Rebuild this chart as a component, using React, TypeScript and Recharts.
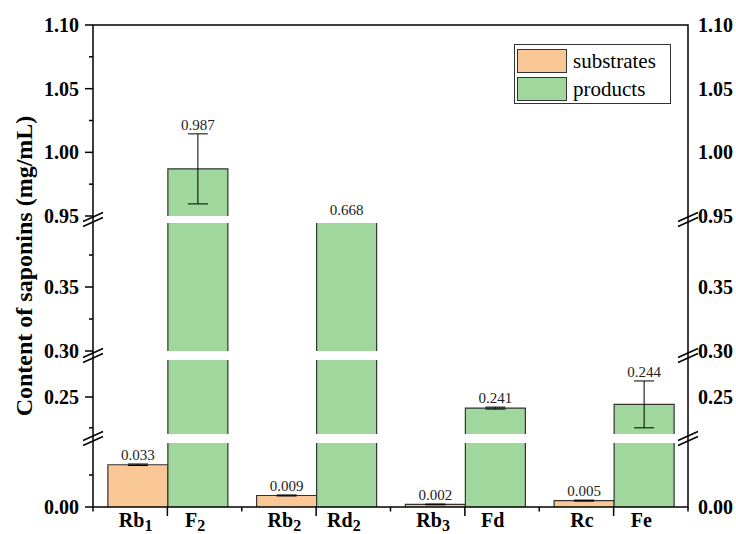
import React from "react";
import { BarChart, Bar, XAxis, YAxis, ErrorBar, LabelList, Legend } from "recharts";

const substrates = ["Rb1", "Rb2", "Rb3", "Rc"];
const products = ["F2", "Rd2", "Fd", "Fe"];
const substrateValues = [0.033, 0.009, 0.002, 0.005];
const productValues = [0.987, 0.668, 0.241, 0.244];
const substrateErrors = [0.0006, 0.0004, 0.0003, 0.0004];
const productErrors = [0.0275, 0, 0.0008, 0.019];
const seriesNames = ["substrates", "products"];

// broken y axis, top piece first
const pieceDomains = [
  [0.95, 1.1],
  [0.3, 0.4],
  [0.22, 0.28],
  [0, 0.05],
];
const pieceMajorTicks = [[0.95, 1.0, 1.05, 1.1], [0.3, 0.35], [0.25], [0]];
const pieceMinorTicks = [[0.975, 1.025, 1.075], [0.325, 0.375], [0.225], [0.025]];

const W = 736;
const H = 534;
const PLOT_LEFT = 93;
const PLOT_RIGHT = 688;
const pieceBox = [
  { top: 25, bottom: 216 },
  { top: 223, bottom: 351 },
  { top: 360, bottom: 434 },
  { top: 443, bottom: 507 },
];
const X_AXIS_H = 27;
const PIECE_PAD_BOTTOM = 14;
const BAND = (PLOT_RIGHT - PLOT_LEFT) / substrates.length;
const BAR_W = BAND * 0.4;

const SERIF = "'Liberation Serif', 'Times New Roman', serif";
const SUB_FILL = "#F9C896";
const PROD_FILL = "#9FD79C";
const EDGE = "#333";

const data = substrates.map((s, i) => ({
  group: s,
  substrate: substrateValues[i],
  substrateErr: substrateErrors[i],
  product: productValues[i],
  productErr: productErrors[i],
}));

// fill plus left/top/right edges, so cut pieces show no line at the break
const OpenBar = (p: any) => {
  const { x, y, width, height, fill } = p;
  if (!(height > 0)) return <g />;
  return (
    <g>
      <rect x={x} y={y} width={width} height={height} fill={fill} stroke="none" />
      <path
        d={`M${x},${y + height}V${y}H${x + width}V${y + height}`}
        fill="none"
        stroke={EDGE}
        strokeWidth={1.2}
      />
    </g>
  );
};

const makeValueLabel = (piece: number, marginTop: number, errors: number[]) => (props: any) => {
  const vb = props.viewBox ?? props;
  const x = vb.x ?? props.x;
  const y = vb.y ?? props.y;
  const width = vb.width ?? props.width;
  const value = Number(props.value);
  const index = props.index ?? 0;
  const [lo, hi] = pieceDomains[piece];
  const box = pieceBox[piece];
  const pxPerUnit = (box.bottom - box.top) / (hi - lo);
  let ty: number;
  if (value >= lo && value <= hi) {
    ty = y - errors[index] * pxPerUnit - 4;
  } else if (value > hi && (piece === 0 || value < pieceDomains[piece - 1][0])) {
    ty = marginTop - 8;
  } else {
    return null;
  }
  return (
    <text
      x={x + width / 2}
      y={ty}
      textAnchor="middle"
      fontFamily={SERIF}
      fontSize={15}
      fill="#222"
    >
      {value.toFixed(3)}
    </text>
  );
};

const isIn = (v: number, list: number[]) => list.some((m) => Math.abs(m - v) < 1e-9);

const leftTick = (majors: number[]) => (p: any) => {
  const { x, y, payload } = p;
  const major = isIn(payload.value, majors);
  return (
    <g>
      <line x1={x - (major ? 8 : 4)} x2={x} y1={y} y2={y} stroke="#000" strokeWidth={1.5} />
      {major && (
        <text
          x={x - 14}
          y={y}
          dy="0.35em"
          textAnchor="end"
          fontFamily={SERIF}
          fontWeight="bold"
          fontSize={20}
          fill="#000"
        >
          {Number(payload.value).toFixed(2)}
        </text>
      )}
    </g>
  );
};

const rightTick = (p: any) => {
  const { x, y, payload } = p;
  return (
    <text
      x={x + 10}
      y={y}
      dy="0.35em"
      textAnchor="start"
      fontFamily={SERIF}
      fontWeight="bold"
      fontSize={20}
      fill="#000"
    >
      {Number(payload.value).toFixed(2)}
    </text>
  );
};

// "Rb1" -> Rb with subscript 1
const SubLabel = ({ x, y, name }: { x: number; y: number; name: string }) => {
  const m = name.match(/^(.*?)(\d*)$/) as RegExpMatchArray;
  return (
    <text x={x} y={y} textAnchor="middle" fontFamily={SERIF} fontWeight="bold" fontSize={20} fill="#000">
      {m[1]}
      {m[2] && (
        <tspan fontSize={16} dy={4}>
          {m[2]}
        </tspan>
      )}
    </text>
  );
};

const XTick = (p: any) => {
  const { x, y, payload } = p;
  const i = payload.index;
  const axisY = y - 9;
  return (
    <g>
      <line x1={x - BAND / 2} x2={x - BAND / 2} y1={axisY} y2={axisY + 4.5} stroke="#000" strokeWidth={1.5} />
      {i === substrates.length - 1 && (
        <line x1={x + BAND / 2} x2={x + BAND / 2} y1={axisY} y2={axisY + 4.5} stroke="#000" strokeWidth={1.5} />
      )}
      <SubLabel x={x - BAR_W / 2 - 2} y={axisY + 20} name={substrates[i]} />
      <SubLabel x={x + BAR_W / 2 - 2} y={axisY + 20} name={products[i]} />
    </g>
  );
};

const LegendBox = (props: any) => {
  const items = [...(props.payload ?? [])].sort(
    (a: any, b: any) => seriesNames.indexOf(a.value) - seriesNames.indexOf(b.value)
  );
  return (
    <div
      style={{
        position: "relative",
        width: 157,
        height: 60,
        boxSizing: "border-box",
        border: `1px solid ${EDGE}`,
        background: "#fff",
        fontFamily: SERIF,
        fontSize: 21,
        color: "#000",
      }}
    >
      {items.map((entry: any, i: number) => (
        <div
          key={entry.value}
          style={{ position: "absolute", left: 2, top: 4 + i * 28, height: 24, display: "flex", alignItems: "center" }}
        >
          <span
            style={{
              display: "inline-block",
              width: 50,
              height: 24,
              boxSizing: "border-box",
              background: entry.color,
              border: `1px solid ${EDGE}`,
            }}
          />
          <span style={{ marginLeft: 6, lineHeight: "24px" }}>{entry.value}</span>
        </div>
      ))}
    </div>
  );
};

function Piece({ k }: { k: number }) {
  const box = pieceBox[k];
  const isTop = k === 0;
  const isBottom = k === pieceDomains.length - 1;
  const marginTop = isTop ? box.top : 30;
  const marginBottom = isBottom ? 0 : PIECE_PAD_BOTTOM;
  const height = marginTop + (box.bottom - box.top) + (isBottom ? X_AXIS_H : marginBottom);
  const domain = pieceDomains[k];
  return (
    <div style={{ position: "absolute", left: 0, top: box.top - marginTop }}>
      <BarChart
        width={W}
        height={height}
        data={data}
        margin={{ top: marginTop, right: 0, bottom: marginBottom, left: 0 }}
        barCategoryGap="10%"
        barGap={0}
      >
        <XAxis
          dataKey="group"
          hide={!isBottom}
          height={X_AXIS_H}
          axisLine={false}
          tickLine={{ stroke: "#000", strokeWidth: 1.5 }}
          tickSize={9}
          tickMargin={0}
          interval={0}
          tick={<XTick />}
        />
        <YAxis
          yAxisId="left"
          width={PLOT_LEFT}
          domain={domain}
          allowDataOverflow
          ticks={[...pieceMajorTicks[k], ...pieceMinorTicks[k]]}
          interval={0}
          axisLine={false}
          tickLine={false}
          tickSize={0}
          tickMargin={0}
          tick={leftTick(pieceMajorTicks[k])}
        />
        <YAxis
          yAxisId="right"
          orientation="right"
          width={W - PLOT_RIGHT}
          domain={domain}
          allowDataOverflow
          ticks={pieceMajorTicks[k]}
          interval={0}
          axisLine={false}
          tickLine={false}
          tickSize={0}
          tickMargin={0}
          tick={rightTick}
        />
        {isTop && (
          <Legend
            layout="vertical"
            align="center"
            verticalAlign="middle"
            wrapperStyle={{ left: 514, top: 44, right: "auto", bottom: "auto", width: 157, height: 60 }}
            content={LegendBox}
          />
        )}
        <Bar
          yAxisId="left"
          dataKey="substrate"
          name="substrates"
          fill={SUB_FILL}
          shape={OpenBar}
          isAnimationActive={false}
        >
          <ErrorBar dataKey="substrateErr" width={10} stroke="#000" strokeWidth={1} direction="y" />
          <LabelList dataKey="substrate" content={makeValueLabel(k, marginTop, substrateErrors)} />
        </Bar>
        <Bar
          yAxisId="left"
          dataKey="product"
          name="products"
          fill={PROD_FILL}
          shape={OpenBar}
          isAnimationActive={false}
        >
          <ErrorBar dataKey="productErr" width={10} stroke="#000" strokeWidth={1} direction="y" />
          <LabelList dataKey="product" content={makeValueLabel(k, marginTop, productErrors)} />
        </Bar>
      </BarChart>
    </div>
  );
}

export default function App() {
  const gaps = pieceBox.slice(1).map((b, i) => (pieceBox[i].bottom + b.top) / 2);
  return (
    <div style={{ position: "absolute", left: 0, top: 0, width: W, height: H, background: "#fff" }}>
      {pieceDomains.map((_, k) => (
        <Piece key={k} k={k} />
      ))}
      <svg width={W} height={H} style={{ position: "absolute", left: 0, top: 0, pointerEvents: "none" }}>
        <rect
          x={PLOT_LEFT}
          y={pieceBox[0].top}
          width={PLOT_RIGHT - PLOT_LEFT}
          height={pieceBox[pieceBox.length - 1].bottom - pieceBox[0].top}
          fill="none"
          stroke="#000"
          strokeWidth={1.5}
        />
        {gaps.map((gy) =>
          [PLOT_LEFT, PLOT_RIGHT].map((ax) =>
            [-2.5, 2.5].map((d) => (
              <line
                key={`${gy}-${ax}-${d}`}
                x1={ax - 10}
                y1={gy + d + 4.5}
                x2={ax + 10}
                y2={gy + d - 4.5}
                stroke="#000"
                strokeWidth={1.5}
              />
            ))
          )
        )}
        <text
          transform={`translate(24, ${(pieceBox[0].top + pieceBox[3].bottom) / 2}) rotate(-90)`}
          textAnchor="middle"
          dominantBaseline="central"
          fontFamily={SERIF}
          fontWeight="bold"
          fontSize={24}
          fill="#000"
        >
          Content of saponins (mg/mL)
        </text>
      </svg>
    </div>
  );
}
